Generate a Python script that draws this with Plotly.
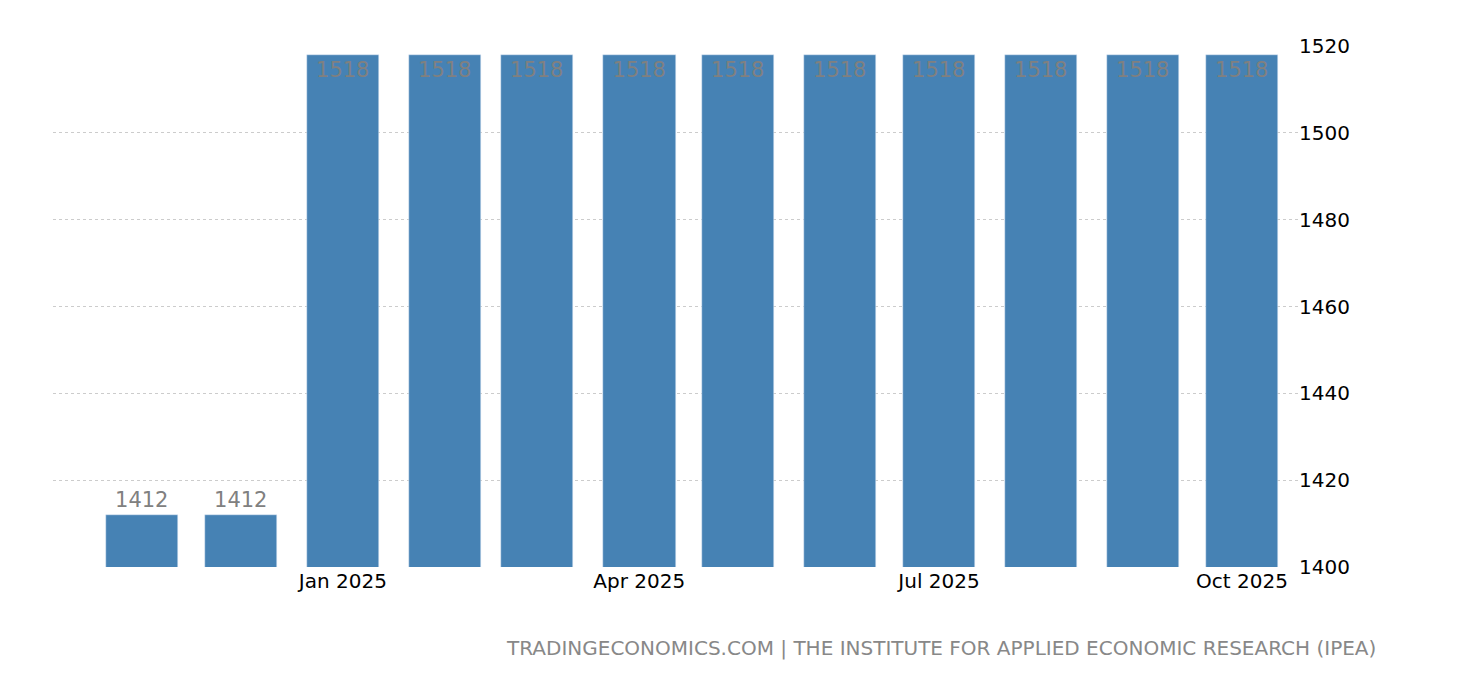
import plotly.graph_objects as go

months = ["2024-11-01", "2024-12-01", "2025-01-01", "2025-02-01", "2025-03-01", "2025-04-01",
          "2025-05-01", "2025-06-01", "2025-07-01", "2025-08-01", "2025-09-01", "2025-10-01"]
values = [1412, 1412, 1518, 1518, 1518, 1518, 1518, 1518, 1518, 1518, 1518, 1518]
tick_vals = ["2025-01-01", "2025-04-01", "2025-07-01", "2025-10-01"]
tick_text = ["Jan 2025", "Apr 2025", "Jul 2025", "Oct 2025"]

fig = go.Figure()
fig.add_bar(x=months, y=values, marker_color="#4682b4", width=22 * 86400000,
            text=[str(v) for v in values],
            textposition=["outside" if v < 1500 else "inside" for v in values],
            insidetextanchor="end", textangle=0,
            textfont=dict(color="#808080", size=21, family="DejaVu Sans"),
            cliponaxis=False)
fig.update_layout(
    width=1460, height=680, plot_bgcolor="white", paper_bgcolor="white",
    margin=dict(l=45, r=170, t=38, b=121), showlegend=False, bargap=0,
    font=dict(family="DejaVu Sans", size=20, color="#000"),
    uniformtext=dict(mode=False),
    xaxis=dict(type="date", range=["2024-10-05", "2025-10-18"], tickvals=tick_vals,
               ticktext=tick_text, showgrid=False, ticks="", tickfont=dict(size=20)),
    yaxis=dict(side="right", range=[1400, 1520], dtick=20, showgrid=True,
               gridcolor="#cccccc", griddash="dot", zeroline=False, tickfont=dict(size=20)),
    annotations=[dict(text="TRADINGECONOMICS.COM | THE INSTITUTE FOR APPLIED ECONOMIC RESEARCH (IPEA)",
                      xref="paper", yref="paper", x=1.064, y=-0.155, xanchor="right",
                      yanchor="middle", showarrow=False,
                      font=dict(size=20, color="#888888", family="DejaVu Sans"))],
)
fig.write_html("out.html")
